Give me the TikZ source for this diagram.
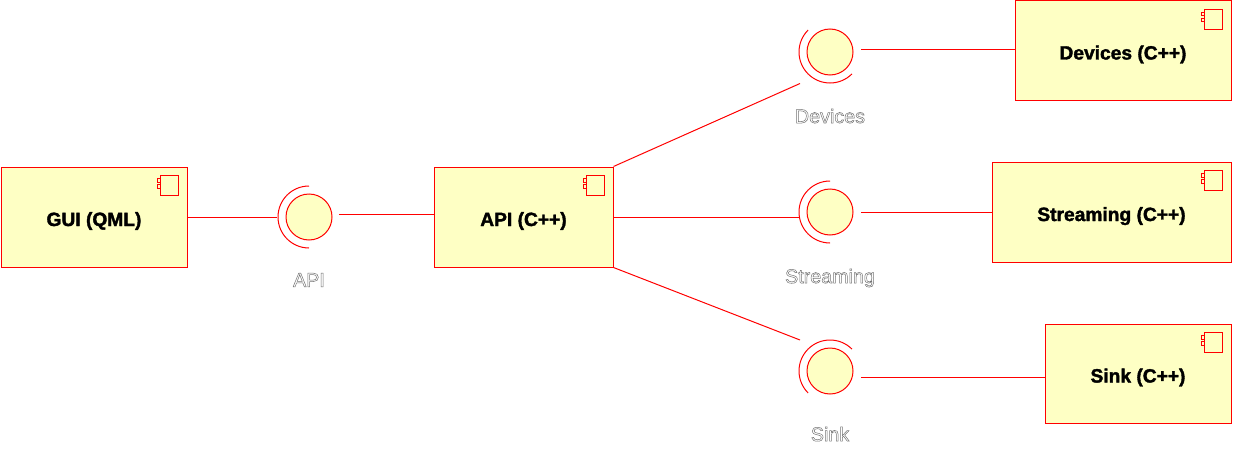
\documentclass[tikz,border=0pt]{standalone}
\usepackage{fontspec}
\usepackage{tikz}
\usepackage{xcolor}
\setmainfont{Liberation Sans}
\definecolor{compfill}{HTML}{FEFFC4}
\newcommand{\hollow}[1]{\special{pdf:code q 2 Tr 0.5 w 0.45 G 1 g}#1\special{pdf:code Q}}
\newcommand{\heavy}[1]{\special{pdf:code q 2 Tr 0.35 w 0 G 0 g}#1\special{pdf:code Q}}
\tikzset{
    wire/.style={draw=red, line width=1pt},
    compbox/.style={wire, fill=compfill, rectangle, inner sep=0pt, font=\fontsize{19.2}{21}\selectfont\bfseries},
    ball/.style={wire, fill=compfill, circle, minimum size=46pt, inner sep=0pt},
    ifacelabel/.style={font=\fontsize{19.7}{22}\selectfont, inner sep=0pt}
}
\begin{document}
\begin{tikzpicture}[x=1pt, y=-1pt]
\useasboundingbox (0,0) rectangle (1238,452);

% components
\foreach \name/\cx/\cy/\bw/\bh/\txt in {gui/94/217/186/100/GUI (QML), api/523.5/217/179/100/API (C++),
    devices/1123/50.5/216/99/Devices (C++), streaming/1111.5/212/239/100/Streaming (C++), sink/1138/373.5/186/99/Sink (C++)} {
    \node[compbox, minimum width=\bw pt, minimum height=\bh pt] (\name) at (\cx, \cy) {\smash{\raisebox{-9pt}{\heavy{\txt}}}};
    % component icon
    \draw[wire] ([xshift=-27pt, yshift=-9pt]\name.north east) rectangle ([xshift=-9pt, yshift=-29pt]\name.north east);
    \draw[wire] ([xshift=-30pt, yshift=-12pt]\name.north east) rectangle ([xshift=-27pt, yshift=-15.5pt]\name.north east);
    \draw[wire] ([xshift=-30pt, yshift=-18pt]\name.north east) rectangle ([xshift=-27pt, yshift=-21.5pt]\name.north east);
}

% interfaces: ball, socket arc, label
\foreach \name/\cx/\cy/\from/\ly/\txt in {apiif/309/217/90/280/API, devif/830/52/135/116/Devices,
    strif/830/212/90/278/Streaming, sinkif/830/371/45/434/Sink} {
    \node[ball] (\name) at (\cx, \cy) {};
    \draw[wire] (\name.center) ++(\from:31pt) arc[start angle=\from, delta angle=180, radius=31pt];
    \node[ifacelabel] (\name label) at (\cx, \ly) {\hollow{\txt}};
}

% free ends of the connectors
\coordinate (apiSock) at (277, 217);
\coordinate (apiOut) at (339, 214);
\coordinate (devSock) at (800, 83.5);
\coordinate (devOut) at (861, 50);
\coordinate (strSock) at (799, 217);
\coordinate (strOut) at (861, 212);
\coordinate (sinkSock) at (800, 340);
\coordinate (sinkOut) at (861, 377);

% connectors
\draw[wire] (gui.east) -- (apiSock);
\draw[wire] (apiOut) -- (api.west |- apiOut);
\draw[wire] (api.north east) -- (devSock);
\draw[wire] (api.east) -- (strSock);
\draw[wire] (api.south east) -- (sinkSock);
\draw[wire] (devOut) -- (devices.west |- devOut);
\draw[wire] (strOut) -- (streaming.west |- strOut);
\draw[wire] (sinkOut) -- (sink.west |- sinkOut);
\end{tikzpicture}
\end{document}
